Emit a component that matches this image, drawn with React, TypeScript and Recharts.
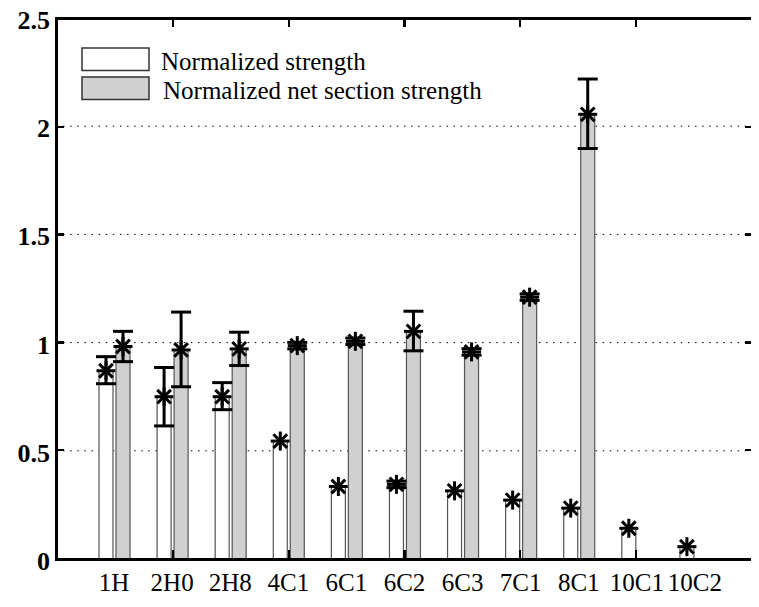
import { BarChart, Bar, XAxis, YAxis, CartesianGrid, ErrorBar, Legend } from 'recharts'

const categories = ['1H', '2H0', '2H8', '4C1', '6C1', '6C2', '6C3', '7C1', '8C1', '10C1', '10C2']
const strength = [0.87, 0.75, 0.75, 0.545, 0.335, 0.345, 0.315, 0.272, 0.235, 0.142, 0.057]
const strengthErrLow = [0.06, 0.135, 0.06, 0, 0, 0.015, 0, 0, 0, 0, 0]
const strengthErrHigh = [0.065, 0.135, 0.065, 0, 0, 0.015, 0, 0, 0, 0, 0]
const netStrength = [0.982, 0.966, 0.971, 0.986, 1.006, 1.052, 0.957, 1.21, 2.055, null, null]
const netErrLow = [0.07, 0.17, 0.077, 0.015, 0.015, 0.09, 0.015, 0.015, 0.158, 0, 0]
const netErrHigh = [0.07, 0.175, 0.077, 0.015, 0.015, 0.093, 0.015, 0.015, 0.163, 0, 0]
const yTicks = [0, 0.5, 1, 1.5, 2, 2.5]
const frameTicks = [2, 4, 6, 8, 10] // matlab x positions 0..12
const seriesOrder = ['strength', 'net']

const FONT = '"Liberation Serif", "Times New Roman", serif'
const Y_MAX = yTicks[yTicks.length - 1]
const X_SPAN = categories.length + 1
const MARGIN = { top: 18, right: 6, left: 0, bottom: 0 }
const Y_AXIS_W = 56
const X_AXIS_H = 48
const W = 759
const H = 607

const data = categories.map((name, i) => ({
  name,
  strength: strength[i],
  net: netStrength[i],
  sErr: strengthErrLow[i] || strengthErrHigh[i] ? [strengthErrLow[i], strengthErrHigh[i]] : null,
  nErr: netErrLow[i] || netErrHigh[i] ? [netErrLow[i], netErrHigh[i]] : null,
}))

function Asterisk({ cx, cy }: { cx: number; cy: number }) {
  const r = 9.5
  const d = r * 0.72
  return (
    <g stroke="#000" strokeWidth={3}>
      <line x1={cx - r} x2={cx + r} y1={cy} y2={cy} />
      <line x1={cx} x2={cx} y1={cy - r} y2={cy + r} />
      <line x1={cx - d} x2={cx + d} y1={cy - d} y2={cy + d} />
      <line x1={cx - d} x2={cx + d} y1={cy + d} y2={cy - d} />
    </g>
  )
}

// bar rect plus the asterisk marker at its value
function makeShape(key: 'strength' | 'net', fill: string) {
  return (props: any) => {
    const { x, y, width, height, payload } = props
    if (payload == null || payload[key] == null) return null
    return (
      <g>
        <rect x={x} y={y} width={width} height={Math.max(height, 0)} fill={fill} stroke="#555" strokeWidth={1.2} />
        <Asterisk cx={x + width / 2} cy={y} />
      </g>
    )
  }
}

function LeftTick({ x, y, payload }: any) {
  return (
    <text x={x} y={y + 11} textAnchor="end" fontFamily={FONT} fontWeight="bold" fontSize={26} fill="#000">
      {String(payload.value)}
    </text>
  )
}

function BottomTick({ x, y, payload }: any) {
  return (
    <text x={x} y={y + 32} textAnchor="middle" fontFamily={FONT} fontSize={25} fill="#000">
      {payload.value}
    </text>
  )
}

// box round the plot area with matlab-style inward ticks, laid over the svg
function FrameOverlay() {
  const left = MARGIN.left + Y_AXIS_W
  const top = MARGIN.top
  const width = W - MARGIN.right - left
  const height = H - MARGIN.bottom - X_AXIS_H - top
  const tick = { position: 'absolute' as const, background: '#000' }
  return (
    <div style={{ position: 'absolute', left: left - 1.5, top: top - 1.5, width: width + 3, height: height + 3, border: '3px solid #000', boxSizing: 'border-box', pointerEvents: 'none' }}>
      {yTicks.slice(1, -1).map((v) => (
        <div key={'y' + v}>
          <div style={{ ...tick, left: 0, top: `calc(${(1 - v / Y_MAX) * 100}% - 1.25px)`, width: 6, height: 2.5 }} />
          <div style={{ ...tick, right: 0, top: `calc(${(1 - v / Y_MAX) * 100}% - 1.25px)`, width: 7, height: 2.5 }} />
        </div>
      ))}
      {frameTicks.map((v) => (
        <div key={'x' + v}>
          <div style={{ ...tick, top: 0, left: `calc(${(v / X_SPAN) * 100}% - 1.25px)`, width: 2.5, height: 7 }} />
          <div style={{ ...tick, bottom: 0, left: `calc(${(v / X_SPAN) * 100}% - 1.25px)`, width: 2.5, height: 8 }} />
        </div>
      ))}
    </div>
  )
}

function LegendBox({ payload }: any) {
  const items = [...(payload ?? [])].sort(
    (a: any, b: any) => seriesOrder.indexOf(a.dataKey) - seriesOrder.indexOf(b.dataKey)
  )
  return (
    <svg width={420} height={60} style={{ display: 'block' }}>
      {items.map((item: any, i: number) => (
        <g key={i}>
          <rect x={2} y={2 + i * 29} width={67} height={22.5} fill={item.color} stroke="#333" strokeWidth={1.5} />
          <text x={81 + i * 2} y={24 + i * 29} fontFamily={FONT} fontSize={25} fill="#000">
            {item.value}
          </text>
        </g>
      ))}
    </svg>
  )
}

export default function App() {
  return (
    <div style={{ margin: -8, width: W, height: H, background: '#fff', position: 'relative' }}>
      <BarChart width={W} height={H} data={data} margin={MARGIN} barSize={14} barGap={3}>
        <CartesianGrid vertical={false} stroke="#000" strokeWidth={1} strokeDasharray="1.5 5.6" />
        <XAxis
          dataKey="name"
          height={X_AXIS_H}
          padding={{ left: 29, right: 29 }}
          axisLine={false}
          tickLine={false}
          tickSize={0}
          tickMargin={0}
          interval={0}
          tick={<BottomTick />}
        />
        <YAxis
          width={Y_AXIS_W}
          domain={[0, Y_MAX]}
          ticks={yTicks}
          interval={0}
          axisLine={false}
          tickLine={false}
          tickSize={0}
          tickMargin={6}
          tick={<LeftTick />}
        />
        <Legend
          layout="horizontal"
          verticalAlign="middle"
          align="center"
          wrapperStyle={{ left: 80, top: 46, width: 'auto', height: 'auto' }}
          content={<LegendBox />}
        />
        <Bar dataKey="strength" name="Normalized strength" fill="#ffffff" shape={makeShape('strength', '#fff')} isAnimationActive={false}>
          <ErrorBar dataKey="sErr" width={10} strokeWidth={3} stroke="#000" />
        </Bar>
        <Bar dataKey="net" name="Normalized net section strength" fill="#d0d0d0" shape={makeShape('net', '#d0d0d0')} isAnimationActive={false}>
          <ErrorBar dataKey="nErr" width={10} strokeWidth={3} stroke="#000" />
        </Bar>
      </BarChart>
      <FrameOverlay />
    </div>
  )
}
